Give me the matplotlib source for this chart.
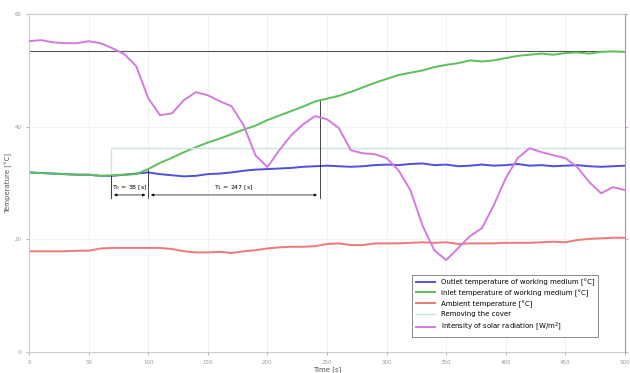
import numpy as np
import matplotlib.pyplot as plt

# time axis [s]
time = np.arange(0, 501, 10)

# temperatures [deg C], every 10 s
outlet = [31.9, 31.8, 31.7, 31.6, 31.5, 31.5, 31.3, 31.3, 31.5, 31.7,
          31.9, 31.6, 31.4, 31.2, 31.3, 31.6, 31.7, 31.9, 32.2, 32.4,
          32.5, 32.6, 32.7, 32.9, 33.0, 33.1, 33.0, 32.9, 33.0, 33.2,
          33.3, 33.2, 33.4, 33.5, 33.2, 33.3, 33.0, 33.1, 33.3, 33.1,
          33.2, 33.4, 33.1, 33.2, 33.0, 33.1, 33.2, 33.0, 32.9, 33.0, 33.1]
inlet = [31.9, 31.8, 31.7, 31.6, 31.5, 31.5, 31.3, 31.4, 31.5, 31.6,
         32.5, 33.6, 34.5, 35.5, 36.4, 37.2, 37.9, 38.7, 39.5, 40.2,
         41.2, 42.0, 42.8, 43.6, 44.5, 45.0, 45.5, 46.2, 47.0, 47.8,
         48.5, 49.2, 49.6, 50.0, 50.6, 51.0, 51.3, 51.8, 51.6, 51.8,
         52.2, 52.6, 52.8, 53.0, 52.8, 53.1, 53.2, 53.0, 53.3, 53.4, 53.3]
ambient = [17.9, 17.9, 17.9, 17.9, 18.0, 18.0, 18.4, 18.5, 18.5, 18.5,
           18.5, 18.5, 18.3, 17.9, 17.7, 17.7, 17.8, 17.6, 17.9, 18.1,
           18.4, 18.6, 18.7, 18.7, 18.8, 19.2, 19.3, 19.0, 19.0, 19.3,
           19.3, 19.3, 19.4, 19.5, 19.4, 19.5, 19.2, 19.3, 19.3, 19.3,
           19.4, 19.4, 19.4, 19.5, 19.6, 19.5, 19.9, 20.1, 20.2, 20.3, 20.3]
# solar radiation [W/m2]
radiation = [1104, 1108, 1100, 1097, 1097, 1104, 1097, 1079, 1058, 1015,
             902, 841, 848, 895, 923, 912, 891, 873, 806, 699,
             657, 717, 770, 809, 838, 827, 795, 717, 706, 703,
             689, 646, 575, 451, 362, 327, 369, 412, 440, 522,
             618, 689, 724, 710, 699, 689, 657, 604, 564, 586, 575]

# removing the cover
cover_t = [69, 69, 500]
cover_v = [27.3, 36.2, 36.2]
max_temp = 53.4

t_cover, t_start, t_end = 69, 100, 244

fig, ax = plt.subplots(figsize=(6.3, 3.73), dpi=100)
fig.subplots_adjust(left=0.046, right=0.992, top=0.962, bottom=0.056)

ax.axhline(max_temp, color='#555555', lw=0.8)
l1, = ax.plot(time, outlet, color='#5050e0', lw=1.4, label='Outlet temperature of working medium [\u00b0C]')
l2, = ax.plot(time, inlet, color='#5cbf5c', lw=1.4, label='Inlet temperature of working medium [\u00b0C]')
l3, = ax.plot(time, ambient, color='#f07878', lw=1.4, label='Ambient temperature [\u00b0C]')
l4, = ax.plot(cover_t, cover_v, color='#c4e8de', lw=1.0, label='Removing the cover')

ax.set_xlim(0, 500)
ax.set_ylim(0, 60)
ax.set_xticks(np.arange(0, 501, 50))
ax.set_yticks([0, 20, 40, 60])
ax.tick_params(labelsize=4, colors='#999999', length=2, width=0.5)
ax.grid(True, color='#f0f0f0', lw=0.6)
ax.set_xlabel('Time [s]', fontsize=5, color='#555555', labelpad=1)
ax.set_ylabel('Temperature [\u00b0C]', fontsize=5, color='#555555', labelpad=2)
for s in ax.spines.values():
    s.set_color('#cccccc')

ax2 = ax.twinx()
l5, = ax2.plot(time, radiation, color='#d47ade', lw=1.4, label='Intensity of solar radiation [W/m$^2$]')
ax2.set_ylim(0, 1200)
ax2.set_yticks([0, 400, 800, 1200])
ax2.tick_params(labelsize=4, colors='#d47ade', length=2, width=0.5, labelright=False)
ax2.spines['right'].set_color('#d47ade')
for k in ['left', 'top', 'bottom']:
    ax2.spines[k].set_visible(False)

# time constant annotations
y_arr = 27.9
ax.plot([t_cover, t_cover], [31.4, y_arr - 0.6], color='k', lw=0.5)
ax.plot([t_start, t_start], [32.3, y_arr - 0.6], color='k', lw=0.5)
ax.plot([t_end, t_end], [44.6, y_arr - 0.6], color='k', lw=0.5)
ax.annotate('', xy=(t_cover, y_arr), xytext=(t_start, y_arr),
            arrowprops=dict(arrowstyle='<|-|>', color='k', lw=0.5, mutation_scale=4))
ax.annotate('', xy=(t_start, y_arr), xytext=(t_end, y_arr),
            arrowprops=dict(arrowstyle='<|-|>', color='k', lw=0.5, mutation_scale=4))
ax.text((t_cover + t_start) / 2, y_arr + 0.6, 'T$_0$ = 38 [s]', fontsize=4.5, ha='center', va='bottom')
ax.text((t_start + t_end) / 2, y_arr + 0.6, 'T$_1$ = 247 [s]', fontsize=4.5, ha='center', va='bottom')

leg = ax2.legend(handles=[l1, l2, l3, l4, l5], loc='lower right', fontsize=5,
                 bbox_to_anchor=(0.96, 0.035), frameon=True, fancybox=False,
                 handlelength=2.8, borderpad=0.5, labelspacing=0.5)
leg.get_frame().set_edgecolor('#555555')
leg.get_frame().set_linewidth(0.6)

fig.savefig('out.png', dpi=100)
